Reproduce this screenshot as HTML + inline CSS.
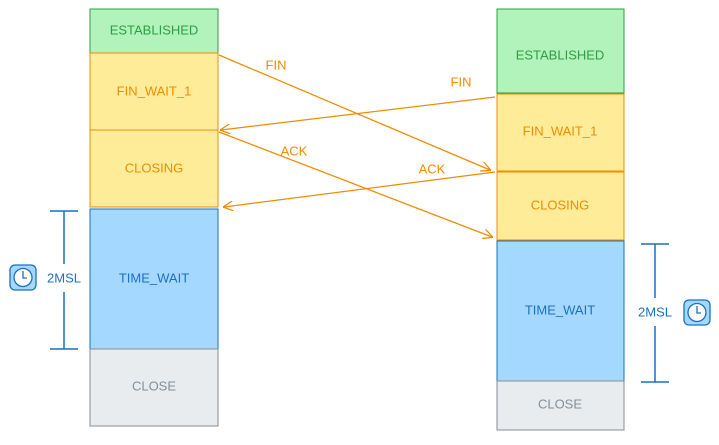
<!DOCTYPE html>
<html><head><meta charset="utf-8"><style>
html,body{margin:0;padding:0;background:#fff;}
svg text{font-family:"Liberation Sans",sans-serif;font-size:13px;text-anchor:middle;dominant-baseline:middle;}
</style></head><body>
<svg width="719" height="440" viewBox="0 0 719 440" xmlns="http://www.w3.org/2000/svg">
<defs>
<marker id="a" viewBox="0 0 10 10" refX="9" refY="5" markerWidth="10" markerHeight="10" orient="auto" markerUnits="userSpaceOnUse"><path d="M0,0 L10,5 L0,10" fill="none" stroke="#f08c00" stroke-width="1.3"/></marker>
</defs>
<!-- left column -->
<rect x="90" y="9" width="128" height="44" fill="#b2f2bb" stroke="#2f9e44"/>
<text x="154" y="31" fill="#2f9e44">ESTABLISHED</text>
<rect x="90" y="53" width="128" height="77" fill="#ffec99" stroke="#f08c00"/>
<text x="154" y="92" fill="#f08c00">FIN_WAIT_1</text>
<rect x="90" y="130" width="128" height="77" fill="#ffec99" stroke="#f08c00"/>
<text x="154" y="169" fill="#f08c00">CLOSING</text>
<rect x="90" y="209" width="128" height="140" fill="#a5d8ff" stroke="#1971c2"/>
<text x="154" y="279" fill="#1971c2">TIME_WAIT</text>
<rect x="90" y="349" width="128" height="77" fill="#e9ecef" stroke="#868e96"/>
<text x="154" y="387" fill="#868e96">CLOSE</text>
<!-- right column -->
<rect x="497" y="9" width="127" height="84" fill="#b2f2bb" stroke="#2f9e44"/>
<text x="560" y="56" fill="#2f9e44">ESTABLISHED</text>
<rect x="497" y="94" width="127" height="77" fill="#ffec99" stroke="#f08c00"/>
<text x="560" y="132" fill="#f08c00">FIN_WAIT_1</text>
<rect x="497" y="172" width="127" height="68" fill="#ffec99" stroke="#f08c00"/>
<text x="560" y="206" fill="#f08c00">CLOSING</text>
<rect x="497" y="241" width="127" height="140" fill="#a5d8ff" stroke="#1971c2"/>
<text x="560" y="311" fill="#1971c2">TIME_WAIT</text>
<rect x="497" y="381" width="127" height="49" fill="#e9ecef" stroke="#868e96"/>
<text x="560" y="405" fill="#868e96">CLOSE</text>
<!-- arrows -->
<g stroke="#f08c00" stroke-width="1.3" fill="none" marker-end="url(#a)">
<line x1="219" y1="55" x2="490" y2="170"/>
<line x1="495" y1="97" x2="221" y2="130"/>
<line x1="219" y1="132" x2="492" y2="237"/>
<line x1="495" y1="172" x2="224" y2="207"/>
</g>
<g fill="#f08c00">
<text x="276" y="66">FIN</text>
<text x="461" y="83">FIN</text>
<text x="294" y="152">ACK</text>
<text x="432" y="170">ACK</text>
</g>
<!-- brackets -->
<g stroke="#1971c2" stroke-width="1.5">
<line x1="64" y1="211" x2="64" y2="264"/><line x1="64" y1="292" x2="64" y2="349"/>
<line x1="50" y1="211" x2="78" y2="211"/><line x1="50" y1="349" x2="78" y2="349"/>
<line x1="655" y1="244" x2="655" y2="298"/><line x1="655" y1="326" x2="655" y2="382"/>
<line x1="641" y1="244" x2="669" y2="244"/><line x1="641" y1="382" x2="669" y2="382"/>
</g>
<g fill="#1971c2">
<text x="64" y="279">2MSL</text>
<text x="655" y="313">2MSL</text>
</g>
<!-- clocks -->
<g stroke="#1971c2" stroke-width="1.3">
<rect x="10" y="265" width="26" height="25" rx="5" fill="#a5d8ff"/>
<circle cx="23" cy="277.5" r="9" fill="#fff"/>
<path d="M23,271 V278 H27" fill="none"/>
<rect x="684" y="300" width="26" height="25" rx="5" fill="#a5d8ff"/>
<circle cx="697" cy="312.5" r="9" fill="#fff"/>
<path d="M697,306 V313 H701" fill="none"/>
</g>
</svg>
</body></html>
